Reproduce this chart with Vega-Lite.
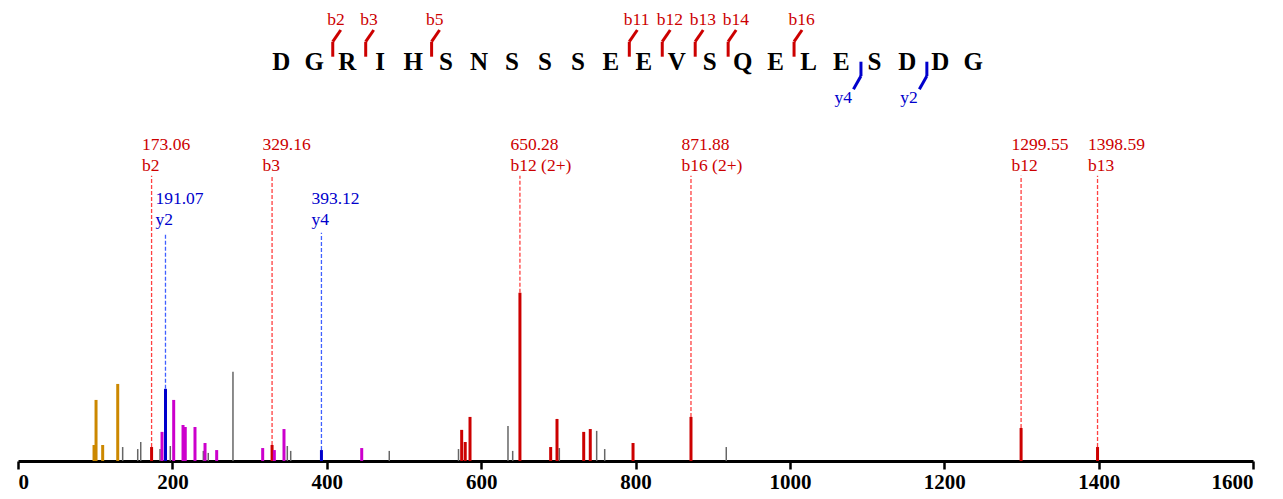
{
  "$schema": "https://vega.github.io/schema/vega-lite/v6.json",
  "width": 1235,
  "height": 461,
  "autosize": {"type": "none"},
  "padding": {"left": 18, "top": 0, "right": 30, "bottom": 38},
  "config": {"view": {"stroke": null}, "font": "Liberation Serif"},
  "datasets": {
    "peaks": [
      {"mz": 98.5, "intensity": 9.5, "type": "immonium"},
      {"mz": 101.1, "intensity": 36.3, "type": "immonium"},
      {"mz": 109.7, "intensity": 9.5, "type": "immonium"},
      {"mz": 129.2, "intensity": 45.8, "type": "immonium"},
      {"mz": 135.6, "intensity": 8.3, "type": "other"},
      {"mz": 155.1, "intensity": 7.1, "type": "other"},
      {"mz": 159.0, "intensity": 11.3, "type": "other"},
      {"mz": 173.06, "intensity": 8.3, "type": "b", "ion": "b2"},
      {"mz": 184.0, "intensity": 7.1, "type": "other"},
      {"mz": 186.6, "intensity": 17.3, "type": "internal"},
      {"mz": 191.07, "intensity": 42.9, "type": "y", "ion": "y2"},
      {"mz": 197.3, "intensity": 8.9, "type": "other"},
      {"mz": 201.7, "intensity": 36.3, "type": "internal"},
      {"mz": 213.8, "intensity": 21.4, "type": "internal"},
      {"mz": 216.7, "intensity": 20.2, "type": "internal"},
      {"mz": 229.3, "intensity": 20.2, "type": "internal"},
      {"mz": 240.1, "intensity": 6.0, "type": "other"},
      {"mz": 242.3, "intensity": 10.7, "type": "internal"},
      {"mz": 246.5, "intensity": 4.8, "type": "other"},
      {"mz": 257.4, "intensity": 6.5, "type": "internal"},
      {"mz": 278.5, "intensity": 53.0, "type": "other"},
      {"mz": 317.0, "intensity": 7.7, "type": "internal"},
      {"mz": 329.16, "intensity": 9.5, "type": "b", "ion": "b3"},
      {"mz": 332.1, "intensity": 6.5, "type": "internal"},
      {"mz": 344.6, "intensity": 19.0, "type": "internal"},
      {"mz": 348.9, "intensity": 8.9, "type": "other"},
      {"mz": 353.3, "intensity": 6.0, "type": "other"},
      {"mz": 393.12, "intensity": 6.5, "type": "y", "ion": "y4"},
      {"mz": 445.3, "intensity": 7.7, "type": "internal"},
      {"mz": 481.0, "intensity": 6.0, "type": "other"},
      {"mz": 570.7, "intensity": 7.1, "type": "other"},
      {"mz": 574.8, "intensity": 18.5, "type": "b"},
      {"mz": 579.4, "intensity": 11.3, "type": "b"},
      {"mz": 585.6, "intensity": 26.2, "type": "b"},
      {"mz": 634.8, "intensity": 20.8, "type": "other"},
      {"mz": 640.9, "intensity": 6.0, "type": "other"},
      {"mz": 650.28, "intensity": 100, "type": "b", "ion": "b12 (2+)"},
      {"mz": 690.1, "intensity": 8.3, "type": "b"},
      {"mz": 698.3, "intensity": 25.0, "type": "b"},
      {"mz": 701.3, "intensity": 7.7, "type": "other"},
      {"mz": 732.9, "intensity": 17.3, "type": "b"},
      {"mz": 741.4, "intensity": 19.0, "type": "b"},
      {"mz": 749.7, "intensity": 17.9, "type": "other"},
      {"mz": 760.1, "intensity": 7.1, "type": "other"},
      {"mz": 796.8, "intensity": 10.7, "type": "b"},
      {"mz": 871.88, "intensity": 26.2, "type": "b", "ion": "b16 (2+)"},
      {"mz": 917.6, "intensity": 8.3, "type": "other"},
      {"mz": 1299.55, "intensity": 19.6, "type": "b", "ion": "b12"},
      {"mz": 1398.59, "intensity": 8.3, "type": "b", "ion": "b13"}
    ],
    "sequence": [
      {"pos": 1, "residue": "D"}, {"pos": 2, "residue": "G"}, {"pos": 3, "residue": "R"},
      {"pos": 4, "residue": "I"}, {"pos": 5, "residue": "H"}, {"pos": 6, "residue": "S"},
      {"pos": 7, "residue": "N"}, {"pos": 8, "residue": "S"}, {"pos": 9, "residue": "S"},
      {"pos": 10, "residue": "S"}, {"pos": 11, "residue": "E"}, {"pos": 12, "residue": "E"},
      {"pos": 13, "residue": "V"}, {"pos": 14, "residue": "S"}, {"pos": 15, "residue": "Q"},
      {"pos": 16, "residue": "E"}, {"pos": 17, "residue": "L"}, {"pos": 18, "residue": "E"},
      {"pos": 19, "residue": "S"}, {"pos": 20, "residue": "D"}, {"pos": 21, "residue": "D"},
      {"pos": 22, "residue": "G"}
    ],
    "fragments": [
      {"site": 2, "ion": "b2", "type": "b"},
      {"site": 3, "ion": "b3", "type": "b"},
      {"site": 5, "ion": "b5", "type": "b"},
      {"site": 11, "ion": "b11", "type": "b"},
      {"site": 12, "ion": "b12", "type": "b"},
      {"site": 13, "ion": "b13", "type": "b"},
      {"site": 14, "ion": "b14", "type": "b"},
      {"site": 16, "ion": "b16", "type": "b"},
      {"site": 18, "ion": "y4", "type": "y"},
      {"site": 20, "ion": "y2", "type": "y"}
    ]
  },
  "layer": [
    {
      "layer": [
        {
          "data": {"name": "peaks"},
          "transform": [{"filter": "datum.type === 'other'"}],
          "mark": {"type": "rule", "strokeWidth": 1.5, "stroke": "#666666"},
          "encoding": {
            "x": {
              "field": "mz", "type": "quantitative",
              "scale": {"domain": [0, 1600], "nice": false, "zero": false},
              "axis": {
                "values": [0, 200, 400, 600, 800, 1000, 1200, 1400, 1600],
                "format": "d", "title": null, "grid": false,
                "domainColor": "black", "domainWidth": 3,
                "tickColor": "black", "tickWidth": 2.5, "tickSize": 8,
                "labelFont": "Liberation Serif", "labelFontWeight": "bold",
                "labelFontSize": 21, "labelColor": "black", "labelPadding": 2
              }
            },
            "y": {"field": "intensity", "type": "quantitative", "scale": {"domain": [0, 274], "nice": false}, "axis": null},
            "y2": {"datum": 0}
          }
        },
        {
          "data": {"name": "peaks"},
          "transform": [{"filter": "datum.type !== 'other'"}],
          "mark": {"type": "rule", "strokeWidth": 3},
          "encoding": {
            "x": {"field": "mz", "type": "quantitative"},
            "y": {"field": "intensity", "type": "quantitative"},
            "y2": {"datum": 0},
            "color": {
              "field": "type", "type": "nominal", "legend": null,
              "scale": {"domain": ["b", "y", "immonium", "internal"], "range": ["#cc0000", "#0000cc", "#cc8800", "#cc00cc"]}
            }
          }
        },
        {
          "data": {"name": "peaks"},
          "transform": [{"filter": "isValid(datum.ion) && datum.type === 'b'"}],
          "mark": {"type": "rule", "strokeWidth": 1.3, "strokeDash": [4, 2], "stroke": "#ff4040", "opacity": 1},
          "encoding": {
            "x": {"field": "mz", "type": "quantitative"},
            "y": {"field": "intensity", "type": "quantitative"},
            "y2": {"datum": 169.6}
          }
        },
        {
          "data": {"name": "peaks"},
          "transform": [{"filter": "isValid(datum.ion) && datum.type === 'b'"}],
          "mark": {"type": "text", "align": "left", "baseline": "alphabetic", "dx": -9.5, "dy": -26, "fontSize": 17.5, "fill": "#cc0000"},
          "encoding": {
            "x": {"field": "mz", "type": "quantitative"},
            "y": {"datum": 169.6, "type": "quantitative"},
            "text": {"field": "mz", "type": "quantitative", "format": ".2f"}
          }
        },
        {
          "data": {"name": "peaks"},
          "transform": [{"filter": "isValid(datum.ion) && datum.type === 'b'"}],
          "mark": {"type": "text", "align": "left", "baseline": "alphabetic", "dx": -9.5, "dy": -5, "fontSize": 17.5, "fill": "#cc0000"},
          "encoding": {
            "x": {"field": "mz", "type": "quantitative"},
            "y": {"datum": 169.6, "type": "quantitative"},
            "text": {"field": "ion", "type": "nominal"}
          }
        },
        {
          "data": {"name": "peaks"},
          "transform": [{"filter": "isValid(datum.ion) && datum.type === 'y'"}],
          "mark": {"type": "rule", "strokeWidth": 1.3, "strokeDash": [4, 2], "stroke": "#4060ff", "opacity": 1},
          "encoding": {
            "x": {"field": "mz", "type": "quantitative"},
            "y": {"field": "intensity", "type": "quantitative"},
            "y2": {"datum": 135.7}
          }
        },
        {
          "data": {"name": "peaks"},
          "transform": [{"filter": "isValid(datum.ion) && datum.type === 'y'"}],
          "mark": {"type": "text", "align": "left", "baseline": "alphabetic", "dx": -10, "dy": -29, "fontSize": 17.5, "fill": "#0000cc"},
          "encoding": {
            "x": {"field": "mz", "type": "quantitative"},
            "y": {"datum": 135.7, "type": "quantitative"},
            "text": {"field": "mz", "type": "quantitative", "format": ".2f"}
          }
        },
        {
          "data": {"name": "peaks"},
          "transform": [{"filter": "isValid(datum.ion) && datum.type === 'y'"}],
          "mark": {"type": "text", "align": "left", "baseline": "alphabetic", "dx": -10, "dy": -8, "fontSize": 17.5, "fill": "#0000cc"},
          "encoding": {
            "x": {"field": "mz", "type": "quantitative"},
            "y": {"datum": 135.7, "type": "quantitative"},
            "text": {"field": "ion", "type": "nominal"}
          }
        }
      ]
    },
    {
      "layer": [
        {
          "data": {"name": "sequence"},
          "mark": {"type": "text", "align": "center", "baseline": "alphabetic", "fontSize": 25, "fontWeight": "bold", "font": "Liberation Serif", "fill": "black"},
          "encoding": {
            "x": {"field": "pos", "type": "quantitative", "scale": {"domain": [-6.991, 30.49], "nice": false, "zero": false}, "axis": null},
            "y": {"datum": 0, "type": "quantitative", "scale": {"domain": [-391, 70], "nice": false, "zero": false}, "axis": null},
            "text": {"field": "residue", "type": "nominal"}
          }
        },
        {
          "data": {"name": "fragments"},
          "transform": [{"filter": "datum.type === 'b'"}],
          "mark": {"type": "rule", "strokeWidth": 3, "stroke": "#cc0000", "xOffset": 18.5, "x2Offset": 18.5},
          "encoding": {
            "x": {"field": "site", "type": "quantitative"},
            "x2": {"field": "site"},
            "y": {"datum": 13.3, "type": "quantitative"},
            "y2": {"datum": 28.3}
          }
        },
        {
          "data": {"name": "fragments"},
          "transform": [{"filter": "datum.type === 'b'"}],
          "mark": {"type": "rule", "strokeWidth": 3, "stroke": "#cc0000", "xOffset": 18.5, "x2Offset": 26.5},
          "encoding": {
            "x": {"field": "site", "type": "quantitative"},
            "x2": {"field": "site"},
            "y": {"datum": 28.3, "type": "quantitative"},
            "y2": {"datum": 40}
          }
        },
        {
          "data": {"name": "fragments"},
          "transform": [{"filter": "datum.type === 'b'"}],
          "mark": {"type": "text", "align": "left", "baseline": "alphabetic", "dx": 13, "fontSize": 17.5, "fill": "#cc0000"},
          "encoding": {
            "x": {"field": "site", "type": "quantitative"},
            "y": {"datum": 45, "type": "quantitative"},
            "text": {"field": "ion", "type": "nominal"}
          }
        },
        {
          "data": {"name": "fragments"},
          "transform": [{"filter": "datum.type === 'y'"}],
          "mark": {"type": "rule", "strokeWidth": 3, "stroke": "#0000cc", "xOffset": 19.5, "x2Offset": 19.5},
          "encoding": {
            "x": {"field": "site", "type": "quantitative"},
            "x2": {"field": "site"},
            "y": {"datum": 8.3, "type": "quantitative"},
            "y2": {"datum": -6}
          }
        },
        {
          "data": {"name": "fragments"},
          "transform": [{"filter": "datum.type === 'y'"}],
          "mark": {"type": "rule", "strokeWidth": 3, "stroke": "#0000cc", "xOffset": 19.5, "x2Offset": 12},
          "encoding": {
            "x": {"field": "site", "type": "quantitative"},
            "x2": {"field": "site"},
            "y": {"datum": -6, "type": "quantitative"},
            "y2": {"datum": -19.3}
          }
        },
        {
          "data": {"name": "fragments"},
          "transform": [{"filter": "datum.type === 'y'"}],
          "mark": {"type": "text", "align": "left", "baseline": "alphabetic", "dx": -7, "fontSize": 17.5, "fill": "#0000cc"},
          "encoding": {
            "x": {"field": "site", "type": "quantitative"},
            "y": {"datum": -33.3, "type": "quantitative"},
            "text": {"field": "ion", "type": "nominal"}
          }
        }
      ]
    }
  ],
  "resolve": {"scale": {"x": "independent", "y": "independent"}}
}
